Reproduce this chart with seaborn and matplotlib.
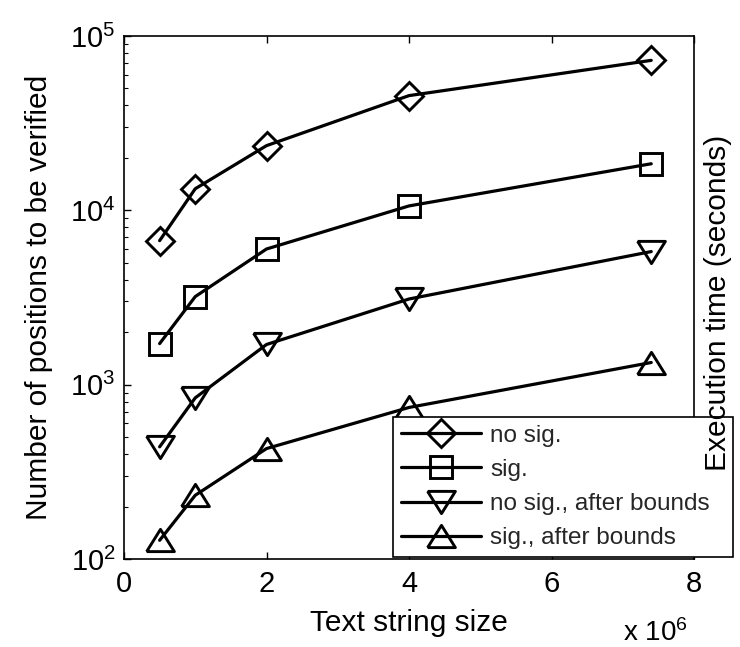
import matplotlib
matplotlib.use("Agg")
import matplotlib.pyplot as plt
import seaborn as sns
import numpy as np
from matplotlib.ticker import LogLocator, LogFormatterMathtext, FixedLocator, NullFormatter

# ---- data ----
text_size = [0.5, 1.0, 2.0, 4.0, 7.4]          # x 10^6
no_sig = [6700, 13300, 23500, 45500, 72500]
sig = [1720, 3200, 6000, 10600, 18500]
no_sig_bounds = [440, 840, 1700, 3100, 5800]
sig_bounds = [128, 232, 430, 740, 1340]
series_names = ["no sig.", "sig.", "no sig., after bounds", "sig., after bounds"]
x_ticks = [0, 2, 4, 6, 8]
x_label = "Text string size"
y_label = "Number of positions to be verified"
y2_label = "Execution time (seconds)"
offset_label = "x 10$^{6}$"

sns.set_theme(style="white")
plt.rcParams["font.family"] = ["Liberation Sans", "DejaVu Sans"]
plt.rcParams["mathtext.fontset"] = "custom"
plt.rcParams["mathtext.rm"] = "Liberation Sans"
plt.rcParams["mathtext.default"] = "regular"

fig = plt.figure(figsize=(7.4, 6.47), dpi=100)
fig.patch.set_facecolor("white")
ax = fig.add_axes([124 / 740, 1 - 559 / 647, 570 / 740, 523 / 647])
ax.set_facecolor("white")

tri_down = [(-1, 0.8), (1, 0.8), (0, -0.8), (-1, 0.8)]
tri_up = [(-1, -0.8), (1, -0.8), (0, 0.8), (-1, -0.8)]
marker_specs = [("D", 14), ("s", 16.5), (tri_down, 20), (tri_up, 20)]
all_series = [no_sig, sig, no_sig_bounds, sig_bounds]

for name, vals, (mk, ms) in zip(series_names, all_series, marker_specs):
    sns.lineplot(x=text_size, y=vals, ax=ax, color="black", linewidth=2.3,
                 marker=mk, markersize=ms, markerfacecolor="none",
                 markeredgecolor="black", markeredgewidth=2.1, label=name,
                 legend=False)

ax.set_yscale("log")
ax.set_ylim(1e2, 1e5)
ax.set_xlim(0, 8)
ax.xaxis.set_major_locator(FixedLocator(x_ticks))
ax.set_xticklabels([str(t) for t in x_ticks])
ax.yaxis.set_major_locator(LogLocator(base=10, numticks=10))
ax.yaxis.set_major_formatter(LogFormatterMathtext())
ax.yaxis.set_minor_locator(LogLocator(base=10, subs=np.arange(2, 10), numticks=20))
ax.yaxis.set_minor_formatter(NullFormatter())

ax.tick_params(which="both", direction="in", top=True, right=True,
               bottom=True, left=True, colors="black", labelsize=21)
ax.tick_params(which="major", length=5, width=1.0)
ax.tick_params(which="minor", length=3, width=0.8)
ax.tick_params(axis="x", pad=8)
ax.tick_params(axis="y", pad=6)

for sp in ax.spines.values():
    sp.set_visible(True)
    sp.set_color("black")
    sp.set_linewidth(1.2)

ax.set_xlabel(x_label, fontsize=21.5, color="black")
ax.set_ylabel(y_label, fontsize=21.5, color="black")
ax.xaxis.set_label_coords(0.5, -0.095)
ax.yaxis.set_label_coords(-0.125, 0.5)

# right label via twin axis (no ticks / spines)
ax2 = ax.twinx()
ax2.set_yscale("log")
ax2.set_ylim(1e2, 1e5)
ax2.set_yticks([])
ax2.yaxis.set_minor_locator(FixedLocator([]))
for sp in ax2.spines.values():
    sp.set_visible(False)
ax2.set_ylabel(y2_label, fontsize=21.5, color="black")
ax2.yaxis.set_label_coords(1.018, 0.49)

handles, labels = ax.get_legend_handles_labels()
leg = ax.legend(handles, labels, loc="center",
                bbox_to_anchor=(393 / 740, 1 - 558 / 647, 340 / 740, 142 / 647),
                bbox_transform=fig.transFigure, mode="expand", borderaxespad=0,
                fontsize=17.5, frameon=True, fancybox=False, framealpha=1,
                edgecolor="black", handlelength=3.3, handletextpad=0.37,
                labelspacing=0.5, borderpad=0.33, numpoints=1)
leg.get_frame().set_linewidth(1.2)
leg.set_zorder(5)

fig.text(623 / 740, 6 / 647, offset_label, fontsize=20, color="black",
         ha="left", va="baseline")

fig.savefig("out.png", dpi=100, facecolor="white")
